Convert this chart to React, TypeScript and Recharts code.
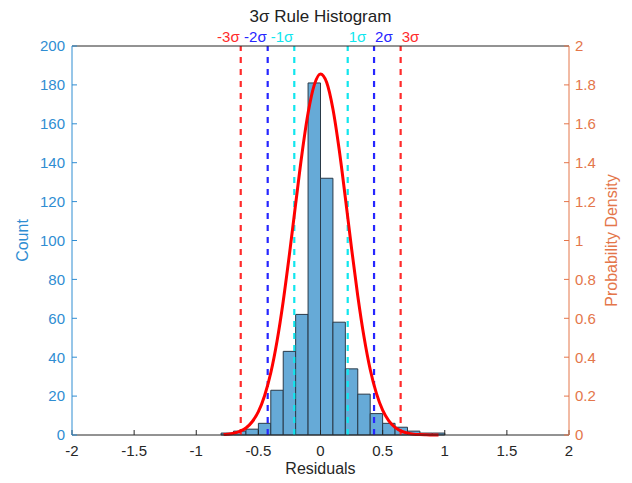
import {
  ComposedChart,
  Line,
  XAxis,
  YAxis,
  ReferenceArea,
  ReferenceLine,
} from "recharts";

// histogram bins (left edge) and counts
const binStarts = [
  -0.8, -0.7, -0.6, -0.5, -0.4, -0.3, -0.2, -0.1, 0, 0.1, 0.2, 0.3, 0.4, 0.5,
  0.6, 0.7, 0.8, 0.9,
];
const binWidth = 0.1;
const counts = [1, 2, 3, 6, 23, 43, 62, 181, 132, 58, 34, 21, 11, 6, 4, 2, 1, 1];

// fitted normal curve
const curveX = [
  -0.78, -0.75, -0.7, -0.65, -0.6, -0.55, -0.5, -0.45, -0.4, -0.35, -0.3, -0.25,
  -0.2, -0.15, -0.1, -0.05, 0, 0.05, 0.1, 0.15, 0.2, 0.25, 0.3, 0.35, 0.4, 0.45,
  0.5, 0.55, 0.6, 0.65, 0.7, 0.75, 0.8, 0.85, 0.9, 0.95,
];
const curveY = [
  0.002, 0.004, 0.009, 0.019, 0.036, 0.068, 0.12, 0.202, 0.32, 0.482, 0.688,
  0.929, 1.188, 1.441, 1.655, 1.8, 1.856, 1.812, 1.676, 1.469, 1.22, 0.959,
  0.715, 0.505, 0.337, 0.214, 0.128, 0.073, 0.039, 0.02, 0.01, 0.004, 0.002,
  0.001, 0.0003, 0.0001,
];

// sigma lines
const sigmaX = [-0.642, -0.425, -0.211, 0.219, 0.431, 0.645];
const sigmaLabels = ["-3σ", "-2σ", "-1σ", "1σ", "2σ", "3σ"];
const sigmaColors = ["#ff2b2b", "#2626ff", "#11e6ee", "#11e6ee", "#2626ff", "#ff2b2b"];

const xTicks = [-2, -1.5, -1, -0.5, 0, 0.5, 1, 1.5, 2];
const countTicks = [0, 20, 40, 60, 80, 100, 120, 140, 160, 180, 200];
const densityTicks = [0, 0.2, 0.4, 0.6, 0.8, 1, 1.2, 1.4, 1.6, 1.8, 2];

const curveData = curveX.map((x, i) => ({ x, density: curveY[i] }));
const binData = binStarts.map((b, i) => ({ x: b + binWidth / 2, count: counts[i] }));

const FONT = "'Liberation Sans', Arial, sans-serif";
const LEFT_COLOR = "#2f8dd2";
const RIGHT_COLOR = "#e4764a";
const AXIS_DARK = "#262626";

const App = () => {
  return (
    <div style={{ position: "absolute", left: 0, top: 0, width: 632, height: 483, fontFamily: FONT }}>
      <div
        style={{
          position: "absolute",
          top: 7,
          left: 72,
          width: 497,
          textAlign: "center",
          fontSize: 17,
          color: "#222",
        }}
      >
        3σ Rule Histogram
      </div>
      <ComposedChart
        width={632}
        height={483}
        data={curveData}
        margin={{ top: 45, right: 10, left: 17, bottom: 8 }}
      >
        <XAxis
          dataKey="x"
          type="number"
          domain={[-2, 2]}
          ticks={xTicks}
          height={40}
          stroke={AXIS_DARK}
          tickSize={-5}
          tickMargin={15}
          tick={{ fill: AXIS_DARK, fontSize: 15, fontFamily: FONT }}
          label={{
            value: "Residuals",
            position: "insideBottom",
            offset: 1,
            fill: AXIS_DARK,
            fontSize: 16,
            fontFamily: FONT,
          }}
        />
        <XAxis
          xAxisId="top"
          dataKey="x"
          type="number"
          orientation="top"
          domain={[-2, 2]}
          ticks={xTicks}
          height={1}
          stroke={AXIS_DARK}
          tickSize={-5}
          tick={false}
        />
        <YAxis
          yAxisId="left"
          type="number"
          domain={[0, 200]}
          ticks={countTicks}
          width={55}
          stroke={LEFT_COLOR}
          tickSize={-5}
          tickMargin={12}
          tick={{ fill: LEFT_COLOR, fontSize: 15, fontFamily: FONT }}
          label={{
            value: "Count",
            angle: -90,
            position: "insideLeft",
            offset: 5,
            fill: LEFT_COLOR,
            fontSize: 16,
            fontFamily: FONT,
            style: { textAnchor: "middle" },
          }}
        />
        <YAxis
          yAxisId="right"
          type="number"
          orientation="right"
          domain={[0, 2]}
          ticks={densityTicks}
          width={53}
          stroke={RIGHT_COLOR}
          tickSize={-5}
          tickMargin={11}
          tick={{ fill: RIGHT_COLOR, fontSize: 15, fontFamily: FONT }}
          label={{
            value: "Probability Density",
            angle: -90,
            position: "insideRight",
            offset: 11,
            fill: RIGHT_COLOR,
            fontSize: 16,
            fontFamily: FONT,
            style: { textAnchor: "middle" },
          }}
        />

        {/* invisible series so the count axis and top axis get a scale */}
        <Line
          xAxisId="top"
          yAxisId="left"
          data={binData}
          dataKey="count"
          stroke="none"
          dot={false}
          activeDot={false}
          isAnimationActive={false}
        />

        {binStarts.map((b, i) => (
          <ReferenceArea
            key={"bin" + i}
            yAxisId="left"
            x1={b}
            x2={b + binWidth}
            y1={0}
            y2={counts[i]}
            fill="#66aad7"
            fillOpacity={1}
            stroke="#2a3a48"
            strokeWidth={1}
          />
        ))}

        {sigmaX.map((sx, i) => (
          <ReferenceLine
            key={"sig" + i}
            yAxisId="left"
            x={sx}
            stroke={sigmaColors[i]}
            strokeWidth={2.2}
            strokeDasharray="6 6"
            label={(props: any) => {
              const vb = props.viewBox || {};
              return (
                <text
                  x={vb.x + (i < 3 ? -1 : 1)}
                  y={vb.y - 4}
                  textAnchor={i < 3 ? "end" : "start"}
                  fill={sigmaColors[i]}
                  fontSize={15}
                  fontFamily={FONT}
                >
                  {sigmaLabels[i]}
                </text>
              );
            }}
          />
        ))}

        <Line
          yAxisId="right"
          type="monotone"
          dataKey="density"
          stroke="#ff0000"
          strokeWidth={3}
          dot={false}
          isAnimationActive={false}
        />
      </ComposedChart>
    </div>
  );
};

export default App;
